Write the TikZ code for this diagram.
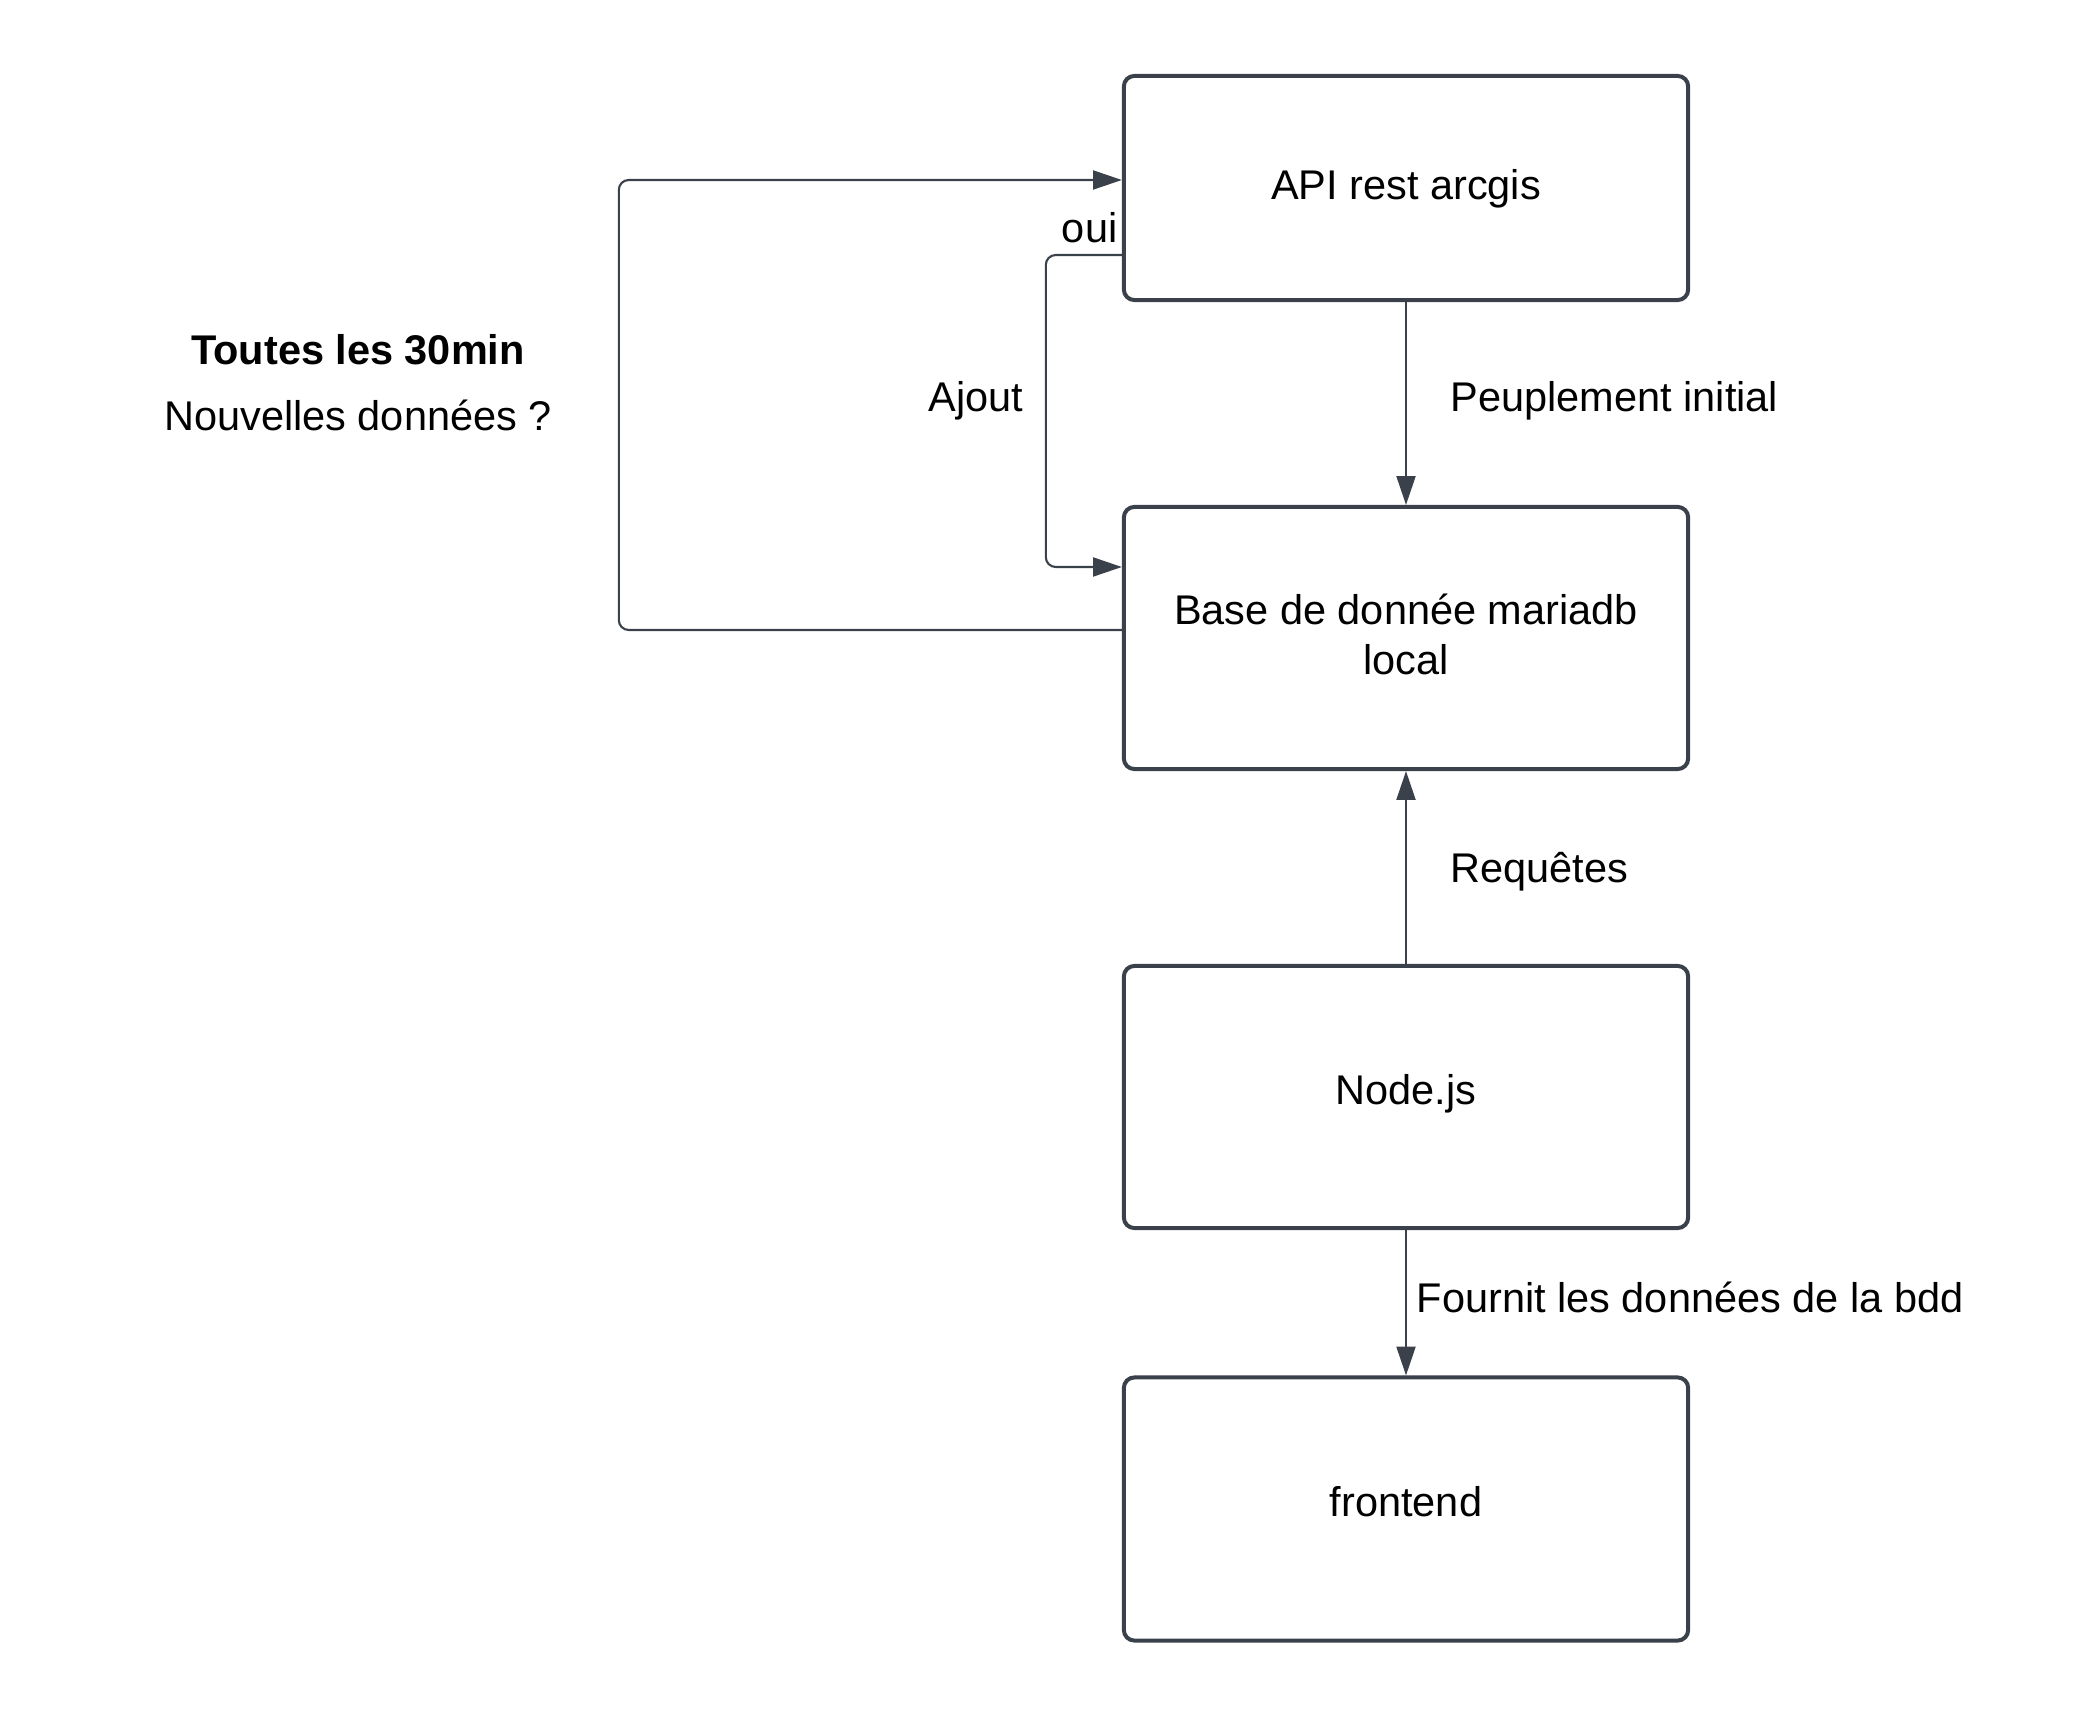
\documentclass[tikz,border=0pt]{standalone}
\usepackage{fontspec}
\setmainfont{Liberation Sans}
\usetikzlibrary{arrows.meta,calc}
\definecolor{dialinecolor}{RGB}{58,65,74}
\tikzset{
  box/.style={draw=dialinecolor, line width=1.14pt, rounded corners=3pt, fill=white,
    minimum width=5.64cm, align=center, inner sep=0pt, text depth=4.2pt,
    font=\fontsize{11.8pt}{14.2pt}\selectfont},
  lbl/.style={inner sep=0pt, font=\fontsize{11.8pt}{14.2pt}\selectfont},
  link/.style={draw=dialinecolor, line width=0.6pt, rounded corners=2.8pt,
    -{Triangle[length=8.2pt,width=5.4pt]}},
}
\begin{document}
\begin{tikzpicture}[x=0.01cm,y=-0.01cm]
\useasboundingbox (0,0) rectangle (2100,1716);
\node[box, minimum height=2.24cm, text depth=2pt] (api) at (1406,188) {API rest arcgis};
\node[box, minimum height=2.62cm, text depth=2pt] (bdd) at (1406,638) {Base de donnée mariadb\\local};
\node[box, minimum height=2.62cm] (nodejs) at (1406,1097) {Node.js};
\node[box, minimum height=2.63cm] (frontend) at (1406,1509) {frontend};
% connecteurs
\draw[link] (api) -- (bdd);
\draw[link] (nodejs) -- (bdd);
\draw[link] (nodejs) -- (frontend);
\draw[link] ($(bdd.west)+(0,-8)$) -- ++(-503,0) |- ($(api.west)+(0,-8)$);
\draw[link] ($(api.west)+(0,67)$) -- ++(-76,0) |- ($(bdd.west)+(0,-71)$);
% textes
\node[lbl, anchor=base west] (peuplement) at (1450,412) {Peuplement initial};
\node[lbl, anchor=base west] (requetes) at (1450,883) {Requêtes};
\node[lbl, anchor=base west] (fournit) at (1416,1312) {Fournit les données de la bdd};
\node[lbl, anchor=base east] (oui) at (1118,243) {oui};
\node[lbl, anchor=base] (ajout) at (976,412) {Ajout};
\node[lbl, anchor=base, font=\fontsize{11.8pt}{14.2pt}\selectfont\bfseries] (toutes) at (358,365) {Toutes les 30min};
\node[lbl, anchor=base] (nouvelles) at (358,431) {Nouvelles données ?};
\end{tikzpicture}
\end{document}
